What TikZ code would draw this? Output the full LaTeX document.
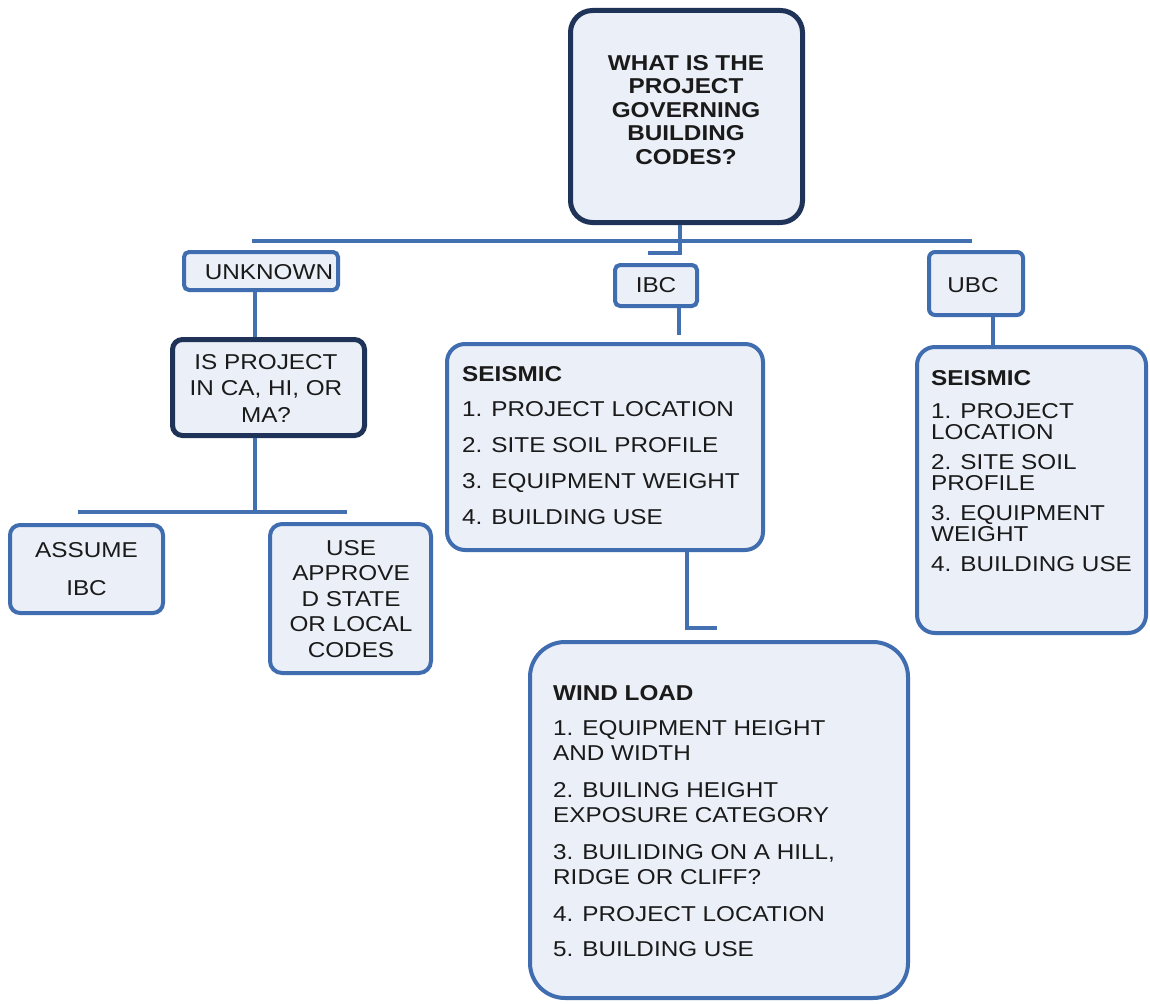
\documentclass[tikz,border=0pt]{standalone}
\usepackage{fontspec}
\setmainfont{Liberation Sans}[FakeStretch=1.13]
\definecolor{boxfill}{HTML}{EBEFF7}
\definecolor{boxblue}{HTML}{3F6DB0}
\definecolor{boxdark}{HTML}{1F3358}
\definecolor{connblue}{HTML}{4270B0}
\definecolor{txtcol}{HTML}{1A1A1A}
\begin{document}
\begin{tikzpicture}[x=1pt,y=-1pt,
  bluebox/.style={draw=boxblue, line width=4pt, fill=boxfill, inner sep=0pt},
  darkbox/.style={draw=boxdark, line width=5pt, fill=boxfill, inner sep=0pt},
  conn/.style={draw=connblue, line width=4pt},
  txt/.style={inner sep=0pt, text=txtcol},
  fs/.style={font=\fontsize{21.5}{#1}\selectfont}
]
\useasboundingbox[fill=white] (0,0) rectangle (1150,1003);

% boxes
\node[darkbox, rounded corners=22pt, minimum width=232pt, minimum height=212pt] (top) at (686.5,116.5) {};
\node[bluebox, rounded corners=5pt, minimum width=154pt, minimum height=38pt] (unk) at (261,271) {};
\node[bluebox, rounded corners=5pt, minimum width=82pt, minimum height=41pt] (ibc) at (656,285.5) {};
\node[bluebox, rounded corners=6pt, minimum width=94pt, minimum height=63pt] (ubc) at (976,283.5) {};
\node[darkbox, rounded corners=10pt, minimum width=192pt, minimum height=96pt] (isq) at (268.5,387.5) {};
\node[bluebox, rounded corners=18pt, minimum width=316pt, minimum height=206pt] (seis) at (605,447) {};
\node[bluebox, rounded corners=18pt, minimum width=229pt, minimum height=286pt] (useis) at (1031.5,490) {};
\node[bluebox, rounded corners=10pt, minimum width=153pt, minimum height=88pt] (assume) at (86.5,569) {};
\node[bluebox, rounded corners=12pt, minimum width=161pt, minimum height=149pt] (usecodes) at (350.5,598.5) {};
\node[bluebox, rounded corners=35pt, minimum width=378pt, minimum height=356pt] (wind) at (719,820) {};

% texts
\node[txt, fs=23.5, align=center, anchor=north, font=\bfseries\fontsize{21.5}{23.5}\selectfont] (toptxt) at (686,55)
  {WHAT IS THE\\PROJECT\\GOVERNING\\BUILDING\\CODES?};
\node[txt, fs=24] (unktxt) at (269,272) {UNKNOWN};
\node[txt, fs=24] (ibctxt) at (656,285) {IBC};
\node[txt, fs=24] (ubctxt) at (973,285) {UBC};
\node[txt, fs=26.5, align=center, anchor=north] (isqtxt) at (266,354)
  {IS PROJECT\\IN CA, HI, OR\\MA?};
\node[txt, fs=38, align=center, anchor=north] (assumetxt) at (86.5,542)
  {ASSUME\\IBC};
\node[txt, fs=25.5, align=center, anchor=north] (usetxt) at (351,540)
  {USE\\APPROVE\\D STATE\\OR LOCAL\\CODES};
\node[txt, fs=35.7, align=left, anchor=north west] (seistxt) at (462,366)
  {\textbf{SEISMIC}\\1. PROJECT LOCATION\\2. SITE SOIL PROFILE\\3. EQUIPMENT WEIGHT\\4. BUILDING USE};
\node[txt, fs=21, align=left, anchor=north west] (useistxt) at (931,370)
  {\textbf{SEISMIC}\\[12pt]1. PROJECT\\LOCATION\\[9pt]2. SITE SOIL\\PROFILE\\[9pt]3. EQUIPMENT\\WEIGHT\\[9pt]4. BUILDING USE};
\node[txt, fs=25.5, align=left, anchor=north west] (windtxt) at (553,685)
  {\textbf{WIND LOAD}\\[9.5pt]1. EQUIPMENT HEIGHT\\AND WIDTH\\[11pt]2. BUILING HEIGHT\\EXPOSURE CATEGORY\\[11pt]3. BUILIDING ON A HILL,\\RIDGE OR CLIFF?\\[11pt]4. PROJECT LOCATION\\[9.5pt]5. BUILDING USE};

% connectors
\coordinate (tcx) at (680,0);
\coordinate (stubL) at (648,253);
\draw[conn] (top.south -| tcx) |- (stubL);
\coordinate (hl) at (252,241);
\coordinate (hr) at (972,241);
\draw[conn] (hl) -- (hr);
\coordinate (ux) at (255,0);
\draw[conn] (unk.south -| ux) -- (isq.north -| ux);
\coordinate (brL) at (78,512);
\coordinate (brR) at (347,512);
\draw[conn] (isq.south -| ux) -- (ux |- brL);
\draw[conn] (brL) -- (brR);
\coordinate (ibcEnd) at (679,335);
\draw[conn] (ibc.south -| ibcEnd) -- (ibcEnd);
\coordinate (ubx) at (993,0);
\draw[conn] (ubc.south -| ubx) -- (useis.north -| ubx);
\coordinate (sx) at (687,0);
\coordinate (wstub) at (717,628);
\draw[conn] (seis.south -| sx) |- (wstub);
\end{tikzpicture}
\end{document}
